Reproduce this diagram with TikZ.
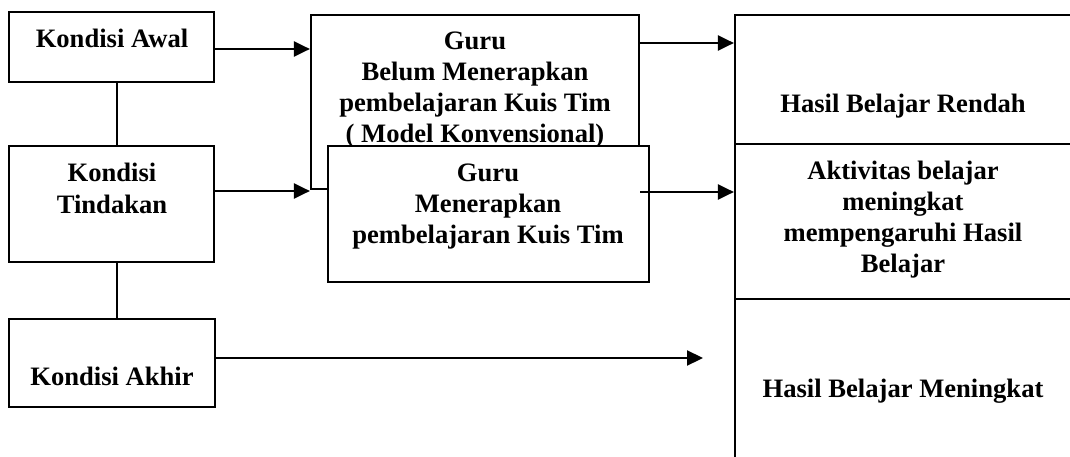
\documentclass[tikz,border=0pt]{standalone}
\usepackage{fontspec}
\setmainfont{Liberation Serif}
\usetikzlibrary{arrows.meta}
\begin{document}
\begin{tikzpicture}[x=1pt,y=-1pt,
  box/.style={draw, line width=2.2pt, inner sep=0pt, fill=white},
  txt/.style={anchor=base, inner sep=0pt, font=\bfseries\fontsize{26.6}{31}\selectfont},
  arr/.style={-{Triangle[length=16pt,width=15pt]}, line width=2.2pt},
  conn/.style={line width=2.2pt}]
\useasboundingbox (0,0) rectangle (1070,457);
% left column
\node[box, minimum width=205pt, minimum height=70pt] (awal) at (111.5,47) {};
\node[box, minimum width=205pt, minimum height=116pt] (tind) at (111.5,204) {};
\node[box, minimum width=206pt, minimum height=88pt] (akhir) at (112,363) {};
\node[txt] (tawal) at (112,48) {Kondisi Awal};
\node[txt] (ttind1) at (112,182) {Kondisi};
\node[txt] (ttind2) at (112,213) {Tindakan};
\node[txt] (takhir) at (112,385) {Kondisi Akhir};
% right column
\node[box, minimum width=365pt, minimum height=129pt] (r1) at (917.5,79.5) {};
\node[box, minimum width=365pt, minimum height=155pt] (r2) at (917.5,221.5) {};
\node[box, minimum width=365pt, minimum height=181pt] (r3) at (917.5,389.5) {};
\node[txt] (tr1) at (903,113) {Hasil Belajar Rendah};
\node[txt] (tr2a) at (903,179) {Aktivitas belajar};
\node[txt] (tr2b) at (903,210) {meningkat};
\node[txt] (tr2c) at (903,241) {mempengaruhi Hasil};
\node[txt] (tr2d) at (903,272) {Belajar};
\node[txt] (tr3) at (903,397) {Hasil Belajar Meningkat};
% middle boxes
\node[box, minimum width=328pt, minimum height=174pt] (belum) at (475,102) {};
\node[txt] (tb1) at (475,50) {Guru};
\node[txt] (tb2) at (475,81) {Belum Menerapkan};
\node[txt] (tb3) at (475,112) {pembelajaran Kuis Tim};
\node[txt] (tb4) at (475,143) {( Model Konvensional)};
\node[box, minimum width=321pt, minimum height=136pt] (terap) at (488.5,214) {};
\node[txt] (tt1) at (488,182) {Guru};
\node[txt] (tt2) at (488,212) {Menerapkan};
\node[txt] (tt3) at (488,243) {pembelajaran Kuis Tim};
% connectors
\draw[conn] ([xshift=5.5pt]awal.south) -- ([xshift=5.5pt]tind.north);
\draw[conn] ([xshift=5.5pt]tind.south) -- ([xshift=5pt]akhir.north);
\coordinate (akhirend) at (703,358);
\draw[arr] (awal.east |- 0,49) -- (belum.west |- 0,49);
\draw[arr] (tind.east |- 0,191) -- (belum.west |- 0,191);
\draw[arr] (belum.east |- 0,43) -- (r1.west |- 0,43);
\draw[arr] (belum.east |- 0,192) -- (r2.west |- 0,192);
\draw[arr] (akhir.east |- 0,358) -- (akhirend);
\end{tikzpicture}
\end{document}
